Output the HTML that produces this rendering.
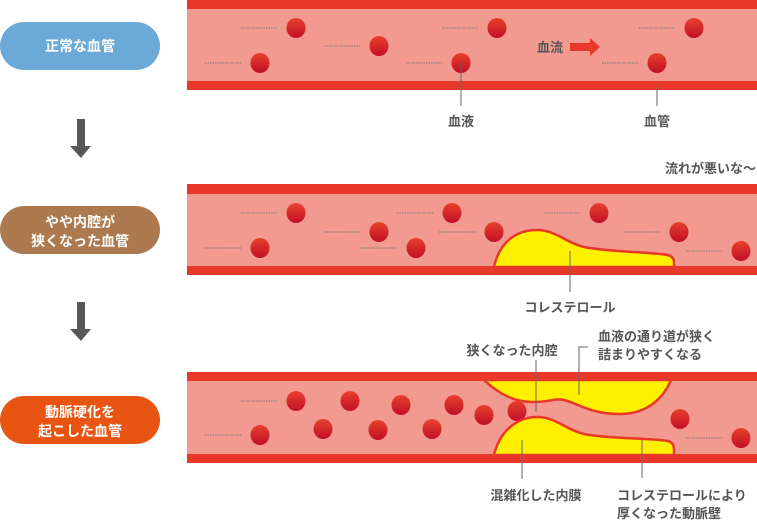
<!DOCTYPE html>
<html><head><meta charset="utf-8"><style>
html,body{margin:0;padding:0;background:#fff}
svg{display:block}
text{font-family:"Liberation Sans","Noto Sans CJK JP",sans-serif;font-weight:bold}
</style></head><body>
<svg width="757" height="520" viewBox="0 0 757 520" xmlns="http://www.w3.org/2000/svg">
<defs>
<linearGradient id="c" x1="0" y1="0" x2="0" y2="1"><stop offset="0" stop-color="#e8402c"/><stop offset="1" stop-color="#c10f27"/></linearGradient>
</defs>
<!-- pills -->
<rect x="0" y="22" width="160" height="48" rx="24" fill="#6aa9d8"/>
<text x="80" y="51" font-size="14" fill="#fff" text-anchor="middle">正常な血管</text>
<rect x="0" y="206" width="160" height="48" rx="24" fill="#ad7a50"/>
<text x="80" y="227" font-size="14" fill="#fff" text-anchor="middle">やや内腔が</text>
<text x="80" y="246" font-size="14" fill="#fff" text-anchor="middle">狭くなった血管</text>
<rect x="0" y="396" width="160" height="48" rx="24" fill="#e85513"/>
<text x="80" y="417" font-size="14" fill="#fff" text-anchor="middle">動脈硬化を</text>
<text x="80" y="436" font-size="14" fill="#fff" text-anchor="middle">起こした血管</text>
<!-- down arrows -->
<path d="M77,119H85V146H91L81,158L70,146H77Z" fill="#595757"/>
<path d="M77,302H85V329H91L81,341L70,329H77Z" fill="#595757"/>

<!-- tube 1 -->
<rect x="187" y="0" width="570" height="90" fill="#f29a90"/>
<rect x="187" y="0" width="570" height="9" fill="#e8382a"/>
<rect x="187" y="81" width="570" height="9" fill="#e8382a"/>
<g stroke="#777" stroke-width="1" stroke-dasharray="1.5,1">
<line x1="241" y1="28" x2="277" y2="28"/><line x1="205" y1="63" x2="241" y2="63"/>
<line x1="324" y1="46" x2="360" y2="46"/><line x1="442" y1="28" x2="478" y2="28"/>
<line x1="406" y1="63" x2="442" y2="63"/><line x1="639" y1="28" x2="675" y2="28"/>
<line x1="602" y1="63" x2="638" y2="63"/>
</g>
<g fill="url(#c)">
<ellipse cx="296" cy="28" rx="9.5" ry="10"/><ellipse cx="260" cy="63" rx="9.5" ry="10"/>
<ellipse cx="379" cy="46" rx="9.5" ry="10"/><ellipse cx="497" cy="28" rx="9.5" ry="10"/>
<ellipse cx="461" cy="63" rx="9.5" ry="10"/><ellipse cx="694" cy="28" rx="9.5" ry="10"/>
<ellipse cx="657" cy="63" rx="9.5" ry="10"/>
</g>
<text x="550" y="52" font-size="13" fill="#555" text-anchor="middle">血流</text>
<path d="M570,43H590V38L600,47L590,56V51H570Z" fill="#e8382a"/>
<g stroke="#666" stroke-width="1"><line x1="461" y1="63" x2="461" y2="106"/><line x1="657" y1="87" x2="657" y2="106"/></g>
<text x="461" y="126" font-size="13" fill="#555" text-anchor="middle">血液</text>
<text x="657" y="126" font-size="13" fill="#555" text-anchor="middle">血管</text>

<!-- tube 2 -->
<text x="756" y="173" font-size="13" fill="#555" text-anchor="end">流れが悪いな〜</text>
<rect x="187" y="184" width="570" height="91" fill="#f29a90"/>
<rect x="187" y="184" width="570" height="10" fill="#e8382a"/>
<g stroke="#777" stroke-width="1" stroke-dasharray="1.5,1">
<line x1="241" y1="213" x2="277" y2="213"/><line x1="205" y1="248" x2="241" y2="248"/>
<line x1="324" y1="232" x2="360" y2="232"/><line x1="397" y1="213" x2="433" y2="213"/>
<line x1="361" y1="248" x2="397" y2="248"/><line x1="439" y1="232" x2="475" y2="232"/>
<line x1="544" y1="213" x2="580" y2="213"/><line x1="624" y1="232" x2="660" y2="232"/>
<line x1="686" y1="251" x2="722" y2="251"/>
</g>
<g fill="url(#c)">
<ellipse cx="296" cy="213" rx="9.5" ry="10"/><ellipse cx="260" cy="248" rx="9.5" ry="10"/>
<ellipse cx="379" cy="232" rx="9.5" ry="10"/><ellipse cx="452" cy="213" rx="9.5" ry="10"/>
<ellipse cx="416" cy="248" rx="9.5" ry="10"/><ellipse cx="494" cy="232" rx="9.5" ry="10"/>
<ellipse cx="599" cy="213" rx="9.5" ry="10"/><ellipse cx="679" cy="232" rx="9.5" ry="10"/>
<ellipse cx="741" cy="251" rx="9.5" ry="10"/>
</g>
<path d="M494,267C500,240 518,230 537,230C556,230 566,243 584,247C610,252 650,252 668,255C675,257 674,262 674,267Z" fill="#fff000" stroke="#e8382a" stroke-width="2.5"/>
<rect x="187" y="266" width="570" height="9" fill="#e8382a"/>
<line x1="570" y1="251" x2="570" y2="292" stroke="#666"/>
<text x="570" y="312" font-size="13" fill="#555" text-anchor="middle">コレステロール</text>

<!-- tube 3 -->
<rect x="187" y="372" width="570" height="91" fill="#f29a90"/>
<path d="M484,380C500,395 515,402 533,402C550,402 555,398 564,400C580,404 590,414 620,414C650,414 665,395 671,380Z" fill="#fff000" stroke="#e8382a" stroke-width="2.5"/>
<rect x="187" y="372" width="570" height="9" fill="#e8382a"/>
<g stroke="#777" stroke-width="1" stroke-dasharray="1.5,1">
<line x1="241" y1="401" x2="277" y2="401"/><line x1="205" y1="435" x2="241" y2="435"/>
<line x1="686" y1="438" x2="722" y2="438"/>
</g>
<g fill="url(#c)">
<ellipse cx="296" cy="401" rx="9.5" ry="10"/><ellipse cx="260" cy="435" rx="9.5" ry="10"/>
<ellipse cx="350" cy="401" rx="9.5" ry="10"/><ellipse cx="323" cy="429" rx="9.5" ry="10"/>
<ellipse cx="401" cy="405" rx="9.5" ry="10"/><ellipse cx="378" cy="430" rx="9.5" ry="10"/>
<ellipse cx="454" cy="405" rx="9.5" ry="10"/><ellipse cx="432" cy="429" rx="9.5" ry="10"/>
<ellipse cx="484" cy="415" rx="9.5" ry="10"/><ellipse cx="517" cy="411" rx="9.5" ry="10"/>
<ellipse cx="680" cy="419" rx="9.5" ry="10"/><ellipse cx="741" cy="438" rx="9.5" ry="10"/>
</g>
<path d="M494,455C500,430 518,417 537,417C556,417 566,430 584,434C610,439 650,438 668,441C675,443 674,449 674,455Z" fill="#fff000" stroke="#e8382a" stroke-width="2.5"/>
<rect x="187" y="454" width="570" height="9" fill="#e8382a"/>
<g stroke="#666" stroke-width="1" fill="none">
<line x1="536" y1="360" x2="536" y2="412"/>
<path d="M588,347H579V395"/>
<line x1="522" y1="440" x2="522" y2="479"/>
<line x1="642" y1="440" x2="642" y2="478"/>
</g>
<text x="512" y="355" font-size="13" fill="#555" text-anchor="middle">狭くなった内腔</text>
<text x="598" y="341" font-size="13" fill="#555">血液の通り道が狭く</text>
<text x="598" y="359" font-size="13" fill="#555">詰まりやすくなる</text>
<text x="536" y="500" font-size="13" fill="#555" text-anchor="middle">混雑化した内膜</text>
<text x="617" y="500" font-size="13" fill="#555">コレステロールにより</text>
<text x="617" y="518" font-size="13" fill="#555">厚くなった動脈壁</text>
</svg>
</body></html>
